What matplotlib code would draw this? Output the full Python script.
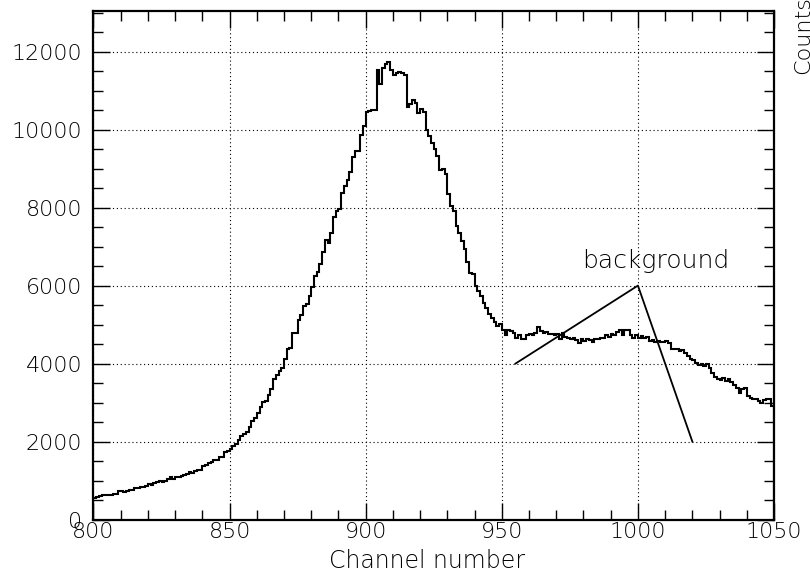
import numpy as np
import matplotlib
matplotlib.use("Agg")
import matplotlib.pyplot as plt
from matplotlib.ticker import MultipleLocator

# channel range of the histogram (one bin per channel)
first_channel = 800
last_channel = 1050

# counts per channel, 800 .. 1049
counts_800 = [560, 580, 605, 620, 620, 640, 640, 645, 655, 740,
              725, 705, 725, 750, 765, 810, 815, 835, 835, 860,
              910, 900, 945, 955, 980, 960, 995, 1040, 1100, 1045,
              1080, 1100, 1130, 1150, 1165, 1210, 1200, 1250, 1285, 1285,
              1385, 1410, 1445, 1470, 1530, 1540, 1600, 1610, 1730, 1770]
counts_850 = [1815, 1880, 1940, 2040, 2135, 2185, 2240, 2365, 2535, 2595,
              2725, 2875, 3005, 3045, 3200, 3360, 3600, 3700, 3815, 3900,
              4110, 4385, 4410, 4775, 4790, 5130, 5235, 5470, 5530, 5730,
              5965, 6240, 6350, 6560, 6850, 7170, 7100, 7340, 7760, 7915,
              7975, 8375, 8545, 8715, 8900, 9290, 9460, 9460, 9870, 10100]
counts_900 = [10440, 10480, 10510, 10510, 11530, 11170, 11580, 11685, 11730, 11530,
              11390, 11455, 11475, 11455, 11405, 10580, 10665, 10770, 10690, 10420,
              10535, 10445, 10000, 9830, 9660, 9515, 9335, 8975, 8990, 8850,
              8360, 8040, 7910, 7525, 7355, 7140, 6945, 6605, 6315, 6290,
              5990, 5865, 5735, 5550, 5435, 5265, 5180, 5055, 4970, 5010]
counts_950 = [4865, 4730, 4865, 4845, 4785, 4660, 4725, 4640, 4640, 4725,
              4770, 4745, 4795, 4940, 4830, 4795, 4810, 4770, 4750, 4725,
              4770, 4640, 4795, 4685, 4660, 4625, 4660, 4600, 4540, 4640,
              4580, 4640, 4600, 4555, 4640, 4625, 4660, 4665, 4725, 4685,
              4770, 4725, 4810, 4855, 4745, 4855, 4855, 4740, 4655, 4730]
counts_1000 = [4660, 4710, 4645, 4670, 4585, 4610, 4565, 4590, 4565, 4560,
               4575, 4540, 4385, 4370, 4370, 4325, 4350, 4265, 4195, 4110,
               4095, 4025, 3965, 3985, 3940, 3985, 3895, 3750, 3665, 3615,
               3580, 3640, 3555, 3615, 3530, 3440, 3380, 3255, 3355, 3380,
               3165, 3125, 3105, 3080, 3040, 2995, 3055, 3080, 3100, 2910]

# the hand-drawn "background" marker
bg_x = [955, 1000, 1020]
bg_y = [4000, 6000, 2000]
bg_label = "background"
bg_label_pos = (979.5, 6330)

counts = np.array(counts_800 + counts_850 + counts_900 + counts_950 + counts_1000)
edges = np.arange(first_channel, last_channel + 1)

plt.rcParams["font.family"] = ["DejaVu Sans"]
plt.rcParams["font.weight"] = "light"
plt.rcParams["axes.labelweight"] = "light"

fig = plt.figure(figsize=(8.1, 5.8), dpi=100)
ax = fig.add_axes([0.1154, 0.1041, 0.9556 - 0.1154, 0.981 - 0.1041])

ax.stairs(counts, edges, color="black", linewidth=1.5)
ax.plot(bg_x, bg_y, color="black", linewidth=1.3)
ax.text(bg_label_pos[0], bg_label_pos[1], bg_label, fontsize=18,
        ha="left", va="bottom")

ax.set_xlim(first_channel, last_channel)
ax.set_ylim(0, 13040)
ax.xaxis.set_major_locator(MultipleLocator(50))
ax.xaxis.set_minor_locator(MultipleLocator(10))
ax.yaxis.set_major_locator(MultipleLocator(2000))
ax.yaxis.set_minor_locator(MultipleLocator(500))
ax.tick_params(which="both", direction="in", top=True, right=True,
               labelsize=16, width=1.0)
ax.tick_params(which="major", length=12)
ax.tick_params(axis="x", which="major", pad=2)
ax.tick_params(axis="y", which="major", pad=8)
ax.tick_params(which="minor", length=7)
ax.grid(True, which="major", linestyle=(0, (1, 2.5)), color="black", linewidth=0.8)
for s in ax.spines.values():
    s.set_linewidth(1.6)

ax.set_xlabel("Channel number", fontsize=17)
ax.xaxis.set_label_coords(0.49, -0.058)
fig.text(0.991, 0.94, "Counts", rotation=90, fontsize=16,
         ha="center", va="center")

fig.savefig("out.png", dpi=100)
